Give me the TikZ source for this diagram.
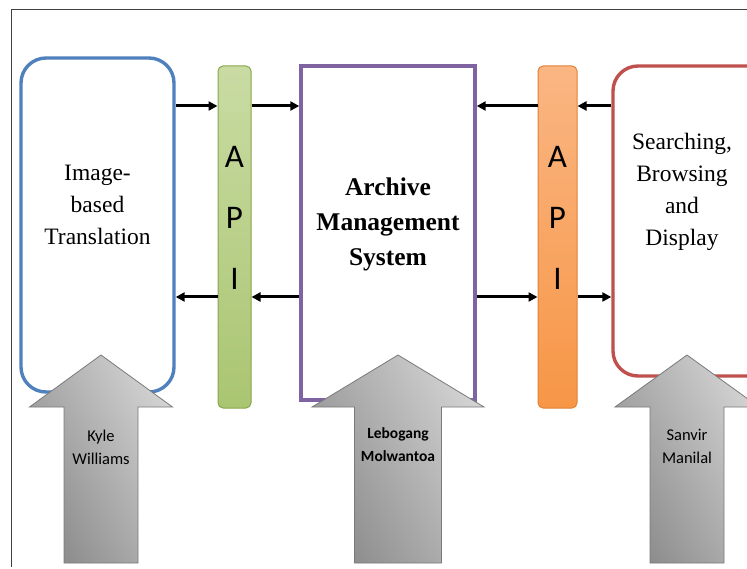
\documentclass[tikz,border=0pt]{standalone}
\usepackage{fontspec}
\setmainfont{Liberation Serif}
\newfontfamily\calib{Carlito}
\usetikzlibrary{arrows.meta}

\definecolor{boxblue}{HTML}{4F81BD}
\definecolor{boxpurple}{HTML}{8064A2}
\definecolor{boxred}{HTML}{C0504D}
\definecolor{apigreen}{HTML}{9BBB59}
\definecolor{apigreenlt}{HTML}{C9DBA3}
\definecolor{apigreendk}{HTML}{86A84A}
\definecolor{apiorange}{HTML}{F79646}
\definecolor{apiorangelt}{HTML}{FAB683}
\definecolor{apiorangedk}{HTML}{E0823A}
\definecolor{blocklt}{HTML}{D2D2D2}
\definecolor{blockdk}{HTML}{8C8C8C}
\definecolor{blockedge}{HTML}{7A7A7A}

\tikzset{
  module/.style={draw, line width=3.4pt, inner sep=0pt},
  apibar/.style={draw, line width=1pt, rounded corners=5pt, inner sep=0pt,
    minimum height=342pt},
  apitext/.style={font=\calib\fontsize{33}{61}\selectfont, align=center, inner sep=0pt},
  conn/.style={line width=3pt, -{Triangle[length=9pt,width=9pt]}},
  modtext/.style={font=\fontsize{23.5}{32}\selectfont, align=center, inner sep=0pt},
  blockarrow/.style={draw=blockedge, line width=0.8pt, top color=blocklt,
    bottom color=blockdk, shading angle=-62},
  person/.style={font=\calib\fontsize{16.5}{23}\selectfont, align=center, inner sep=0pt}
}

% upward block arrow: centre x, shaft half width, head half width
\newcommand{\upblock}[3]{%
  \path[blockarrow] (#1,355) -- (#1+#3,407) -- (#1+#2,407) -- (#1+#2,563)
    -- (#1-#2,563) -- (#1-#2,407) -- (#1-#3,407) -- cycle;}

\begin{document}
\begin{tikzpicture}[x=1pt,y=-1pt]
\useasboundingbox (0,0) rectangle (747,569);
\fill[white] (0,0) rectangle (747,569);
\draw[line width=0.9pt, black!75] (11,567) -- (11,9) -- (760,9);

% system modules
\node[module, draw=boxblue, rounded corners=25pt, minimum width=153pt, minimum height=334pt]
  (blue) at (97.5,225) {};
\node[module, draw=boxpurple, minimum width=174pt, minimum height=334pt]
  (purple) at (388,233) {};
\node[module, draw=boxred, rounded corners=25pt, minimum width=160pt, minimum height=310pt]
  (red) at (693,221) {};

% interfaces
\node[apibar, draw=apigreendk, top color=apigreenlt, bottom color=apigreen!85,
  minimum width=33pt] (apiL) at (234.5,237) {};
\node[apibar, draw=apiorangedk, top color=apiorangelt, bottom color=apiorange,
  minimum width=39pt] (apiR) at (557.5,237) {};
\node[apitext] (apiLt) at (apiL.center |- 0,218) {A\\P\\I};
\node[apitext] (apiRt) at (apiR.center |- 0,218) {A\\P\\I};

% module labels
\node[modtext] (tL) at (97.5,205) {Image-\\based\\Translation};
\node[modtext, font=\bfseries\fontsize{25.5}{35}\selectfont] (tM) at (388,224)
  {Archive\\Management\\System};
\node[modtext] (tR) at (682,192) {Searching,\\Browsing\\and\\Display};

% data flow
\coordinate (rowA) at (0,106);
\coordinate (rowB) at (0,297);
\draw[conn] (blue.east |- rowA) -- (apiL.west |- rowA);
\draw[conn] (apiL.east |- rowA) -- (purple.west |- rowA);
\draw[conn] (apiR.west |- rowA) -- (purple.east |- rowA);
\draw[conn] (red.west |- rowA) -- (apiR.east |- rowA);
\draw[conn] (apiL.west |- rowB) -- (blue.east |- rowB);
\draw[conn] (purple.west |- rowB) -- (apiL.east |- rowB);
\draw[conn] (purple.east |- rowB) -- (apiR.west |- rowB);
\draw[conn] (apiR.east |- rowB) -- (red.west |- rowB);

% responsibilities
\upblock{101}{37}{71.5}
\upblock{398}{43.5}{86}
\upblock{687}{37}{72}
\node[person] (p1) at (101,447) {Kyle\\Williams};
\node[person, font=\calib\bfseries\fontsize{15.5}{23}\selectfont] (p2) at (398,445)
  {Lebogang\\Molwantoa};
\node[person] (p3) at (687,446) {Sanvir\\Manilal};
\end{tikzpicture}
\end{document}
